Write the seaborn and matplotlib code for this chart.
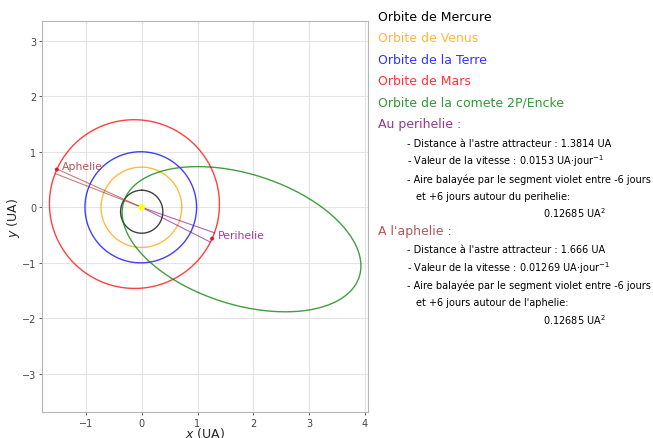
import numpy as np
import pandas as pd
import seaborn as sns
import matplotlib.pyplot as plt

# orbites (UA, degres)
noms = ["Mercure", "Venus", "la Terre", "Mars", "la comete 2P/Encke"]
demi_grand_axe = [0.387, 0.723, 1.0, 1.524, 2.215]
excentricite = [0.2056, 0.0068, 0.0167, 0.0934, 0.848]
angle_perihelie = [90.0, 0.0, 0.0, -24.1, 162.2]
couleurs = ["black", "orange", "blue", "red", "green"]

# segments balayes autour du perihelie / aphelie de Mars (angles en degres)
angles_peri = [-19.4, -27.0]
angles_aph = [155.6, 158.6]
dist_peri = 1.3814
dist_aph = 1.666
vit_peri = 0.0153
vit_aph = 0.01269
aire = 0.12685

xlim = (-1.79, 4.06)
ylim = (-3.69, 3.35)


def orbite(a, e, w, theta):
    r = a * (1 - e ** 2) / (1 + e * np.cos(theta))
    return r * np.cos(theta + w), r * np.sin(theta + w)


sns.set_style("whitegrid", {"axes.edgecolor": "#b5b5b5", "grid.color": "#e4e4e4",
                            "xtick.bottom": True, "ytick.left": True,
                            "xtick.color": "#444444", "ytick.color": "#444444"})

fig = plt.figure(figsize=(6.53, 4.39), dpi=100)
ax = fig.add_axes([0.064, 0.0585, 0.5, 0.891])

theta = np.linspace(0, 2 * np.pi, 600)
for nom, a, e, w, c in zip(noms, demi_grand_axe, excentricite, angle_perihelie, couleurs):
    x, y = orbite(a, e, np.radians(w), theta)
    df = pd.DataFrame({"x": x, "y": y})
    sns.lineplot(data=df, x="x", y="y", sort=False, estimator=None,
                 color=c, alpha=0.75, lw=1, ax=ax)

# segments de Mars
a_m, e_m, w_m = demi_grand_axe[3], excentricite[3], np.radians(angle_perihelie[3])
for angs, c in [(angles_peri, "purple"), (angles_aph, "brown")]:
    for ang in angs:
        px, py = orbite(a_m, e_m, w_m, np.radians(ang) - w_m)
        sns.lineplot(x=[0, px], y=[0, py], color=c, alpha=0.6, lw=0.8, ax=ax)

# points remarquables
pp = (dist_peri * np.cos(w_m), dist_peri * np.sin(w_m))
pa = (-dist_aph * np.cos(w_m), -dist_aph * np.sin(w_m))
sns.scatterplot(x=[pp[0], pa[0]], y=[pp[1], pa[1]], color="crimson", s=8,
                edgecolor="none", ax=ax, zorder=5)
sns.scatterplot(x=[0], y=[0], color="yellow", s=22, edgecolor="none", ax=ax, zorder=6)
ax.text(pp[0] + 0.11, pp[1] + 0.06, "Perihelie", color="purple", alpha=0.75,
        fontsize=7.8, ha="left", va="center")
ax.text(pa[0] + 0.1, pa[1] + 0.07, "Aphelie", color="brown", alpha=0.8,
        fontsize=7.8, ha="left", va="center")

ax.set_xlim(*xlim)
ax.set_ylim(*ylim)
ax.set_xticks([-1, 0, 1, 2, 3, 4])
ax.set_yticks([-3, -2, -1, 0, 1, 2, 3])
ax.tick_params(labelsize=7, length=2.5, width=0.6, pad=1.5)
ax.set_xlabel("$x$ (UA)", fontsize=9, labelpad=-2)
ax.set_ylabel("$y$ (UA)", fontsize=9, labelpad=0)

# texte a droite
H, W = 439.0, 653.0
lignes = [
    (378.3, 17.3, "Orbite de Mercure", "black", 9),
    (378.3, 38.3, "Orbite de Venus", "orange", 9),
    (378.3, 60.0, "Orbite de la Terre", "blue", 9),
    (378.3, 81.7, "Orbite de Mars", "red", 9),
    (378.3, 102.7, "Orbite de la comete 2P/Encke", "green", 9),
    (378.3, 124.3, "Au perihelie :", "purple", 9),
    (406.7, 144.0, f"- Distance à l'astre attracteur : {dist_peri} UA", "black", 7),
    (406.7, 161.0, f"- Valeur de la vitesse : {vit_peri} UA$\\cdot$jour$^{{-1}}$", "black", 7),
    (406.7, 179.3, "- Aire balayée par le segment violet entre -6 jours", "black", 7),
    (415.7, 196.7, "et +6 jours autour du perihelie:", "black", 7),
    (542.7, 213.3, f"{aire} UA$^2$", "black", 7),
    (378.3, 231.7, "A l'aphelie :", "brown", 9),
    (406.7, 250.0, f"- Distance à l'astre attracteur : {dist_aph} UA", "black", 7),
    (406.7, 267.7, f"- Valeur de la vitesse : {vit_aph} UA$\\cdot$jour$^{{-1}}$", "black", 7),
    (406.7, 285.7, "- Aire balayée par le segment violet entre -6 jours", "black", 7),
    (415.7, 302.7, "et +6 jours autour de l'aphelie:", "black", 7),
    (542.7, 320.0, f"{aire} UA$^2$", "black", 7),
]
for x, y, txt, c, fs in lignes:
    alpha = 0.8 if c != "black" else 1.0
    fig.text(x / W, 1 - y / H, txt, color=c, alpha=alpha, fontsize=fs,
             ha="left", va="center")

fig.savefig("out.png", dpi=100)
